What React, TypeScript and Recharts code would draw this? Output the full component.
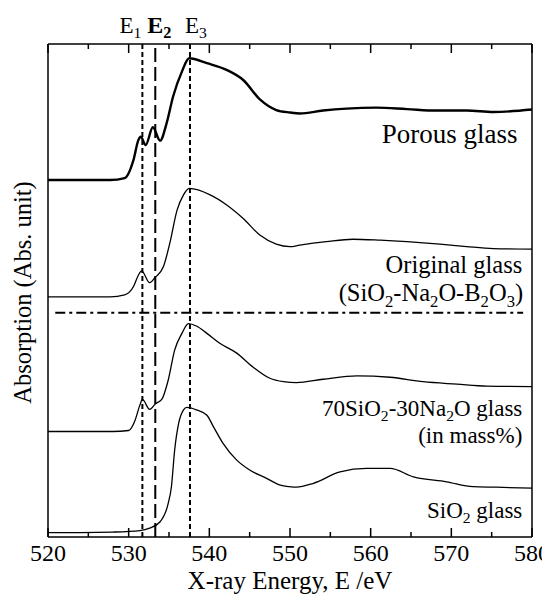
import { LineChart, Line, XAxis, YAxis, ReferenceLine, ReferenceDot, Label } from 'recharts';

const FONT = '"Liberation Serif", "Times New Roman", serif';

// X-ray energy ticks (eV), majors labelled every 10
const xTicks = [520, 525, 530, 535, 540, 545, 550, 555, 560, 565, 570, 575, 580];

// Porous glass
const porousE = [520, 524, 527.7, 529.5, 530.6, 531.2, 531.5, 532.1, 533.0, 533.9, 534.7, 535.5, 536.6, 537.5, 539.7, 542.2, 544.2, 546.3, 548.3, 550.0, 551.2, 554.1, 557.0, 560.7, 564.5, 568.2, 571.9, 575.2, 580];
const porousAbs = [72.4, 72.4, 72.4, 72.8, 76.5, 80.5, 81.2, 79.5, 83.1, 80.4, 83.9, 89.3, 94.4, 97.1, 96.1, 94.7, 92.7, 88.7, 86.6, 86.1, 85.9, 86.5, 86.9, 87.1, 86.8, 86.5, 86.5, 86.2, 86.7];

// Original glass (SiO2-Na2O-B2O3)
const originalE = [520, 524, 527.7, 529.5, 530.6, 531.2, 531.6, 532.6, 533.3, 534.3, 535.1, 536.0, 536.8, 537.5, 540.1, 542.2, 544.2, 546.3, 548.3, 550.0, 551.2, 554.5, 557.8, 561.2, 564.5, 568.6, 571.9, 575.2, 580];
const originalAbs = [48.7, 48.7, 48.7, 49.1, 50.8, 53.1, 54.0, 51.6, 52.7, 54.8, 59.6, 66.3, 69.4, 70.7, 69.4, 67.3, 64.6, 61.2, 59.4, 58.9, 59.2, 59.9, 60.4, 60.2, 59.9, 59.4, 58.9, 58.5, 58.4];

// 70SiO2-30Na2O glass
const sodaE = [520, 524, 528, 530.0, 530.8, 531.4, 531.7, 532.6, 533.3, 534.1, 534.9, 535.7, 536.6, 537.4, 538.4, 539.7, 541.3, 543.4, 545.4, 547.5, 549.2, 550.8, 554.1, 558.3, 562.4, 566.5, 570.7, 574.4, 580];
const sodaAbs = [21.4, 21.4, 21.4, 21.6, 23.7, 26.8, 27.9, 25.9, 27.0, 27.9, 31.8, 37.9, 41.3, 43.3, 42.8, 41.3, 39.3, 37.3, 34.5, 32.2, 31.5, 31.3, 32.0, 32.7, 32.4, 31.5, 31.0, 30.6, 30.5];

// SiO2 glass
const silicaE = [520, 524, 528, 531.4, 532.6, 533.9, 534.9, 535.3, 535.7, 536.2, 536.8, 537.2, 538.4, 539.7, 540.5, 541.7, 543.4, 545.0, 547.1, 548.8, 550.0, 550.8, 552.9, 556.2, 559.5, 562.4, 565.3, 569.4, 572.7, 575.6, 580];
const silicaAbs = [0.9, 0.9, 1.0, 1.3, 1.8, 3.1, 6.8, 10.2, 17.6, 23.1, 25.8, 26.3, 25.8, 24.7, 22.4, 19.0, 15.6, 13.6, 11.9, 10.5, 10.2, 10.1, 10.9, 13.2, 13.9, 13.9, 12.2, 11.2, 10.2, 10.1, 9.9];

// marker energies
const E1 = 531.7;
const E2 = 533.3;
const E3 = 537.6;

// dash-dot divider
const dividerAbs = 45.5;
const dividerFrom = 520.9;
const dividerTo = 578.9;

type Seg = [string, boolean];

// spectrum labels: right edge energy, baseline absorbance, font size, text pieces (true = subscript)
const seriesLabels: { e: number; a: number; size: number; segs: Seg[] }[] = [
  { e: 578.2, a: 79.9, size: 27, segs: [['Porous glass', false]] },
  { e: 578.8, a: 53.5, size: 24.5, segs: [['Original glass', false]] },
  { e: 578.9, a: 47.8, size: 24.5, segs: [['(SiO', false], ['2', true], ['-Na', false], ['2', true], ['O-B', false], ['2', true], ['O', false], ['3', true], [')', false]] },
  { e: 578.8, a: 24.5, size: 23, segs: [['70SiO', false], ['2', true], ['-30Na', false], ['2', true], ['O glass', false]] },
  { e: 578.8, a: 19.0, size: 23, segs: [['(in mass%)', false]] },
  { e: 578.8, a: 3.9, size: 23, segs: [['SiO', false], ['2', true], [' glass', false]] },
];

const toPoints = (e: number[], a: number[]) => e.map((x, i) => ({ e: x, a: a[i] }));

function RichText({ x, y, segs, size, anchor, bold }: { x: number; y: number; segs: Seg[]; size: number; anchor: 'start' | 'end' | 'middle'; bold?: boolean }) {
  const shift = size * 0.22;
  let down = false;
  return (
    <text x={x} y={y} textAnchor={anchor} fontSize={size} fontFamily={FONT} fontWeight={bold ? 'bold' : 'normal'} fill="#000">
      {segs.map(([t, sub], i) => {
        let dy = 0;
        if (sub && !down) dy = shift;
        if (!sub && down) dy = -shift;
        down = sub;
        return (
          <tspan key={i} dy={dy} fontSize={sub ? size * 0.68 : size}>
            {t}
          </tspan>
        );
      })}
    </text>
  );
}

const BottomTick = (props: any) => {
  const { x, y, payload } = props;
  const v = payload.value;
  const major = v % 10 === 0;
  return (
    <g>
      <line x1={x} x2={x} y1={y} y2={y - (major ? 9 : 5)} stroke="#000" strokeWidth={1.5} />
      {major && (
        <text x={x} y={y + 24} textAnchor="middle" fontSize={24} fontFamily={FONT} fill="#000">
          {v}
        </text>
      )}
    </g>
  );
};

const TopTick = (props: any) => {
  const { x, y, payload } = props;
  const major = payload.value % 10 === 0;
  return <line x1={x} x2={x} y1={y} y2={y + (major ? 9 : 5)} stroke="#000" strokeWidth={1.5} />;
};

const markerLabel = (segs: Seg[], dx: number, anchor: 'start' | 'end', bold?: boolean) => (props: any) => {
  const vb = props.viewBox;
  return <RichText x={vb.x + dx} y={vb.y - 11} segs={segs} size={bold ? 24 : 23} anchor={anchor} bold={bold} />;
};

export default function App() {
  return (
    <div style={{ fontFamily: FONT }}>
      <LineChart width={542} height={587} margin={{ top: 35, right: 17, bottom: 0, left: 0 }}>
        <XAxis
          xAxisId="b"
          dataKey="e"
          type="number"
          domain={[520, 580]}
          ticks={xTicks}
          interval={0}
          tickLine={false}
          tickSize={0}
          tickMargin={0}
          tick={<BottomTick />}
          axisLine={{ stroke: '#000', strokeWidth: 1.5 }}
          height={58}
          allowDataOverflow
        >
          <Label
            content={(p: any) => {
              const vb = p.viewBox;
              return (
                <text x={vb.x + vb.width / 2} y={vb.y + 52} textAnchor="middle" fontSize={25} fontFamily={FONT} fill="#000">
                  X-ray Energy, E /eV
                </text>
              );
            }}
          />
        </XAxis>
        <XAxis
          xAxisId="t"
          orientation="top"
          dataKey="e"
          type="number"
          domain={[520, 580]}
          ticks={xTicks}
          interval={0}
          tickLine={false}
          tickSize={0}
          tickMargin={0}
          tick={<TopTick />}
          axisLine={{ stroke: '#000', strokeWidth: 1.5 }}
          height={1}
          allowDataOverflow
        />
        <YAxis
          yAxisId="l"
          type="number"
          domain={[0, 100]}
          allowDataOverflow
          tick={false}
          tickLine={false}
          axisLine={{ stroke: '#000', strokeWidth: 1.5 }}
          width={40}
        >
          <Label
            content={(p: any) => {
              const vb = p.viewBox;
              const cx = vb.x + vb.width - 17;
              const cy = vb.y + vb.height / 2 + 2;
              return (
                <text x={cx} y={cy} transform={`rotate(-90 ${cx} ${cy})`} textAnchor="middle" fontSize={24.5} fontFamily={FONT} fill="#000">
                  Absorption (Abs. unit)
                </text>
              );
            }}
          />
        </YAxis>
        <YAxis
          yAxisId="r"
          orientation="right"
          type="number"
          domain={[0, 100]}
          tick={false}
          tickLine={false}
          axisLine={{ stroke: '#000', strokeWidth: 1.5 }}
          width={1}
        />

        <ReferenceLine xAxisId="b" yAxisId="l" x={E1} stroke="#000" strokeWidth={2} strokeDasharray="5 3"
          label={markerLabel([['E', false], ['1', true]], -1, 'end')} />
        <ReferenceLine xAxisId="b" yAxisId="l" x={E2} stroke="#000" strokeWidth={2} strokeDasharray="14 5"
          label={markerLabel([['E', false], ['2', true]], -8, 'start', true)} />
        <ReferenceLine xAxisId="b" yAxisId="l" x={E3} stroke="#000" strokeWidth={2} strokeDasharray="5 3"
          label={markerLabel([['E', false], ['3', true]], -5, 'start')} />
        <ReferenceLine
          xAxisId="b"
          yAxisId="l"
          segment={[{ x: dividerFrom, y: dividerAbs }, { x: dividerTo, y: dividerAbs }]}
          stroke="#000"
          strokeWidth={2}
          strokeDasharray="10 4 3 4"
        />

        <Line xAxisId="b" yAxisId="l" data={toPoints(porousE, porousAbs)} dataKey="a" type="monotone" dot={false} stroke="#000" strokeWidth={2.4} isAnimationActive={false} />
        <Line xAxisId="b" yAxisId="l" data={toPoints(originalE, originalAbs)} dataKey="a" type="monotone" dot={false} stroke="#000" strokeWidth={1.3} isAnimationActive={false} />
        <Line xAxisId="b" yAxisId="l" data={toPoints(sodaE, sodaAbs)} dataKey="a" type="monotone" dot={false} stroke="#000" strokeWidth={1.3} isAnimationActive={false} />
        <Line xAxisId="b" yAxisId="l" data={toPoints(silicaE, silicaAbs)} dataKey="a" type="monotone" dot={false} stroke="#000" strokeWidth={1.3} isAnimationActive={false} />

        {seriesLabels.map((l, i) => (
          <ReferenceDot
            key={i}
            xAxisId="b"
            yAxisId="l"
            x={l.e}
            y={l.a}
            r={0}
            fill="none"
            stroke="none"
            ifOverflow="visible"
            label={(p: any) => <RichText x={p.viewBox.x} y={p.viewBox.y} segs={l.segs} size={l.size} anchor="end" />}
          />
        ))}
      </LineChart>
    </div>
  );
}
